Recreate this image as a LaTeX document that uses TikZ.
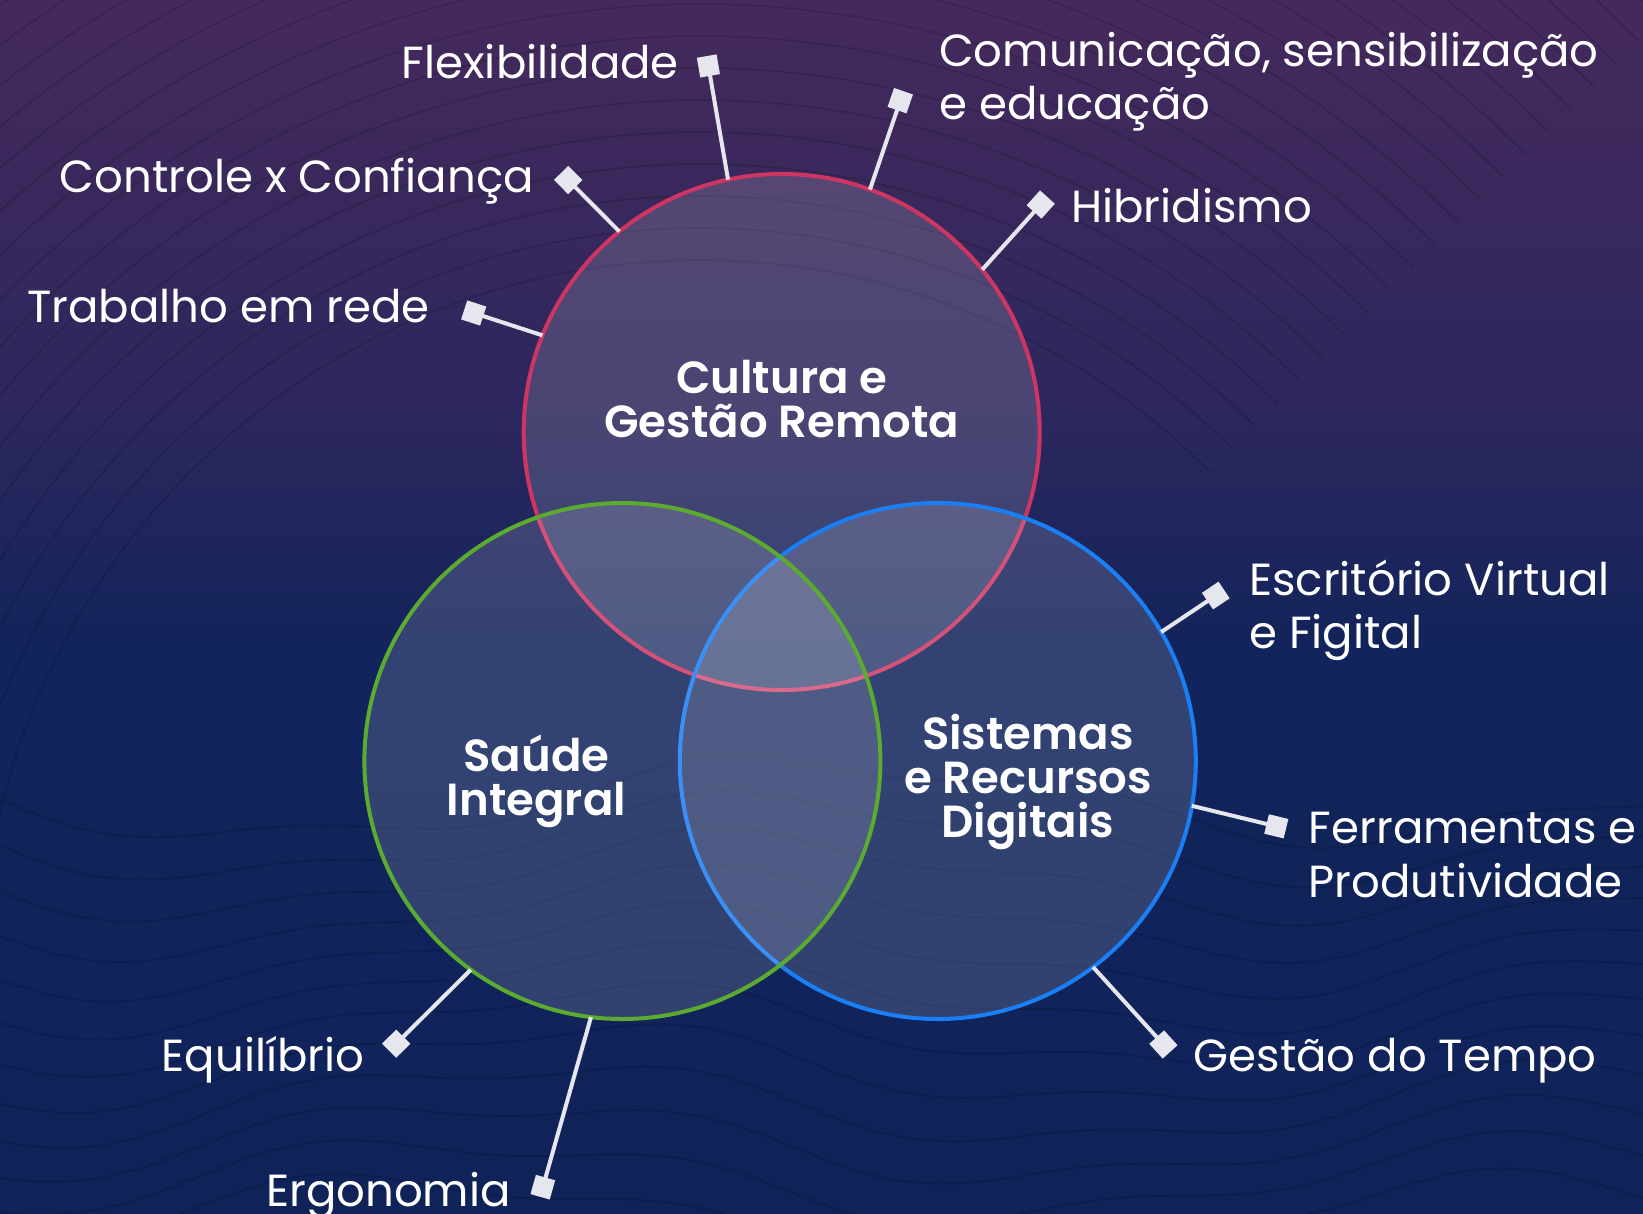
\documentclass[tikz,border=0pt]{standalone}
\usepackage{fontspec}
\setmainfont{Poppins}[BoldFont={Poppins SemiBold}]
\usetikzlibrary{arrows.meta}
\definecolor{bgtop}{HTML}{45295C}
\definecolor{bgmid}{HTML}{2C275D}
\definecolor{bglow}{HTML}{11245B}
\definecolor{bgbot}{HTML}{0F2359}
\definecolor{cred}{HTML}{CF3562}
\definecolor{cgreen}{HTML}{5AAB30}
\definecolor{cblue}{HTML}{1A7EF5}
\definecolor{markcol}{HTML}{E6E6EE}
\tikzset{
  venn/.style={circle, minimum size=516pt, inner sep=0pt, outer sep=0pt, line width=4pt, fill=white, fill opacity=0.14},
  vtitle/.style={text=white, font=\bfseries\fontsize{45}{44}\selectfont, align=center, inner sep=0pt},
  lab/.style={text=white, font=\fontsize{45}{53.5}\selectfont, inner sep=0pt, align=left},
  conn/.style={draw=markcol, line width=4pt, line cap=butt, -{Square[length=20pt,width=20pt]}},
  wave/.style={draw=black, draw opacity=0.15, line width=1.5pt},
}
\begin{document}
\begin{tikzpicture}[x=1pt,y=-1pt]
\useasboundingbox (0,0) rectangle (1643,1213);
\begin{scope}
\clip (0,0) rectangle (1643,1213);
\shade[top color=bgtop, bottom color=bgmid] (0,0) rectangle (1643,421);
\shade[top color=bgmid, bottom color=bglow] (0,420) rectangle (1643,651);
\shade[top color=bglow, bottom color=bgbot] (0,650) rectangle (1643,1213);
% texture: concentric arcs in the upper part
\foreach \r in {720,752,...,1620}{
  \draw[wave] plot[domain=45:180, samples=70] ({700+\r*cos(\x)}, {980-\r*sin(\x)});
}
% texture: waves in the lower part
\foreach \i in {0,...,11}{
  \draw[wave] plot[domain=-60:1720, samples=90] (\x, {800+\i*38+38*sin(\x*0.33+\i*12)+12*sin(\x*0.9)});
}
\end{scope}
% circles
\node[venn, draw=cred] (cul) at (781.7,432) {};
\node[venn, draw=cblue] (sis) at (937.8,761) {};
\node[venn, draw=cgreen] (sau) at (622.4,761) {};
% titles (base = last line)
\node[vtitle, anchor=base] (tcul) at (781.7,437) {Cultura e\\Gestão Remota};
\node[vtitle, anchor=base] (tsau) at (536.5,815) {Saúde\\Integral};
\node[vtitle, anchor=base] (tsis) at (1028,837) {Sistemas\\e Recursos\\Digitais};
% marker ends
\coordinate (m1) at (706.7,56.1);
\coordinate (m2) at (903.5,91.2);
\coordinate (m3) at (561.1,172.9);
\coordinate (m4) at (1047.4,197.1);
\coordinate (m5) at (464.2,309.9);
\coordinate (m6) at (1224.1,590);
\coordinate (m7) at (1286,828.7);
\coordinate (m8) at (1170.1,1051.9);
\coordinate (m9) at (389.1,1050.7);
\coordinate (m10) at (540.1,1196.8);
% connectors
\draw[conn] (cul.102.4) -- (m1);
\draw[conn] (cul.70.35) -- (m2);
\draw[conn] (cul.129.6) -- (m3);
\draw[conn] (cul.39.6) -- (m4);
\draw[conn] (cul.158.6) -- (m5);
\draw[conn] (sis.30.9) -- (m6);
\draw[conn] (sis.-10.8) -- (m7);
\draw[conn] (sis.-53.8) -- (m8);
\draw[conn] (sau.-126.3) -- (m9);
\draw[conn] (sau.-97.2) -- (m10);
% labels (multi-line: base = last line)
\node[lab, anchor=base east] (l1) at (679,78.6) {Flexibilidade};
\node[lab, anchor=base west] (l2) at (939,119.5) {Comunicação, sensibilização\\e educação};
\node[lab, anchor=base east] (l3) at (534,192) {Controle x Confiança};
\node[lab, anchor=base west] (l4) at (1071,222) {Hibridismo};
\node[lab, anchor=base east] (l5) at (429.6,322.7) {Trabalho em rede};
\node[lab, anchor=base west] (l6) at (1249,648.6) {Escritório Virtual\\e Figital};
\node[lab, anchor=base west] (l7) at (1308.7,897) {Ferramentas e\\Produtividade};
\node[lab, anchor=base west] (l8) at (1193.4,1071) {Gestão do Tempo};
\node[lab, anchor=base east] (l9) at (364.6,1071) {Equilíbrio};
\node[lab, anchor=base east] (l10) at (511,1206) {Ergonomia};
\end{tikzpicture}
\end{document}
